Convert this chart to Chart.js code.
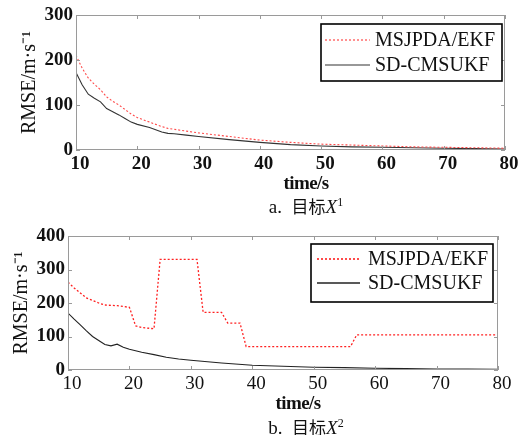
<!DOCTYPE html>
<html>
<head>
<meta charset="utf-8">
<script src="https://cdn.jsdelivr.net/npm/chart.js@4.4.1/dist/chart.umd.min.js"></script>
<style>
  body { margin: 0; background: #fff; }
  #wrap { position: relative; width: 524px; height: 435px; overflow: hidden; }
  canvas { position: absolute; left: 0; }
  .lbl { position: absolute; transform: translate(-50%, -50%); white-space: nowrap;
         font-family: "Liberation Serif", serif; color: #111; }
  .xt { font-weight: bold; font-size: 19px; letter-spacing: -0.6px; }
  .cap { font-size: 19px; }
  .cap .cjk { font-family: "Noto Sans CJK SC", sans-serif; font-size: 17px; }
  .cap i { font-style: italic; }
  .cap sup { font-size: 12px; vertical-align: 7px; line-height: 0; }
</style>
</head>
<body>
<div id="wrap">
  <canvas id="c1" width="524" height="195" style="top:0"></canvas>
  <canvas id="c2" width="524" height="175" style="top:220px"></canvas>
  <div class="lbl xt" style="left:306px; top:183px">time/s</div>
  <div class="lbl cap" style="left:306px; top:205px">a.&nbsp;&nbsp;<span class="cjk">目标</span><i>X</i><sup>1</sup></div>
  <div class="lbl xt" style="left:298px; top:403px">time/s</div>
  <div class="lbl cap" style="left:306px; top:426px">b.&nbsp;&nbsp;<span class="cjk">目标</span><i>X</i><sup>2</sup></div>
</div>
<script>
"use strict";

// ---- data ----
const seriesNames = ["MSJPDA/EKF", "SD-CMSUKF"];

// (a) target X1
const timeA = [10, 11, 12, 13, 14, 15, 16, 17, 18, 19, 20, 22, 24, 25, 26, 28, 30, 35, 40, 45, 50, 55, 60, 65, 70, 75, 80];
const ekfA  = [210, 182, 160, 146, 134, 118, 108, 100, 90, 80, 72, 62, 52, 48, 46, 42, 38, 30, 22, 17, 13, 11, 9, 7, 6, 5, 4];
const ukfA  = [172, 145, 124, 115, 107, 92, 85, 78, 70, 62, 57, 50, 40, 37, 36, 33, 30, 23, 17, 12, 9, 7, 6, 5, 4, 3, 2];

// (b) target X2
const timeEkfB = [10, 11, 12, 13, 14, 15, 16, 18, 20, 21, 22, 24, 25, 31, 32, 35, 36, 38, 39, 56, 57, 80];
const ekfB     = [262, 245, 230, 215, 208, 200, 194, 192, 187, 132, 127, 123, 330, 330, 172, 172, 140, 140, 70, 70, 105, 105];
const timeUkfB = [10, 11, 12, 13, 14, 15, 16, 17, 18, 19, 20, 22, 24, 26, 28, 30, 35, 40, 45, 50, 55, 60, 65, 70, 75, 80];
const ukfB     = [170, 152, 135, 117, 100, 88, 76, 72, 77, 68, 62, 53, 46, 38, 33, 29, 21, 14, 11, 8, 7, 5, 4, 3, 3, 2];

const xTicks = [10, 20, 30, 40, 50, 60, 70, 80];
const yTicksA = [0, 100, 200, 300];
const yTicksB = [0, 100, 200, 300, 400];

const serif = "'Liberation Serif', 'Times New Roman', serif";

function pts(xs, ys) {
  return xs.map((x, i) => ({ x: x, y: ys[i] }));
}

// frame round the plot with inward ticks on all four sides
const boxPlugin = {
  id: "matlabBox",
  afterDatasetsDraw(chart) {
    const { ctx, chartArea: a, scales } = chart;
    const len = 4;
    ctx.save();
    ctx.strokeStyle = "#9a9a9a";
    ctx.lineWidth = 1;
    ctx.strokeRect(Math.round(a.left) + 0.5, Math.round(a.top) + 0.5,
                   Math.round(a.width) - 1, Math.round(a.height) - 1);
    ctx.beginPath();
    scales.x.ticks.forEach(t => {
      const px = Math.round(scales.x.getPixelForValue(t.value)) + 0.5;
      ctx.moveTo(px, a.bottom); ctx.lineTo(px, a.bottom - len);
      ctx.moveTo(px, a.top); ctx.lineTo(px, a.top + len);
    });
    scales.y.ticks.forEach(t => {
      const py = Math.round(scales.y.getPixelForValue(t.value)) + 0.5;
      ctx.moveTo(a.left, py); ctx.lineTo(a.left + len, py);
      ctx.moveTo(a.right, py); ctx.lineTo(a.right - len, py);
    });
    ctx.stroke();
    ctx.restore();
  }
};

// boxed legend in the upper right corner of the plot
const legendPlugin = {
  id: "boxLegend",
  afterDraw(chart, args, opts) {
    const { ctx, chartArea: a } = chart;
    const w = opts.width, h = opts.height;
    const left = a.right - opts.right - w;
    const top = a.top + opts.top;
    ctx.save();
    ctx.fillStyle = "#fff";
    ctx.fillRect(left, top, w, h);
    ctx.strokeStyle = "#000";
    ctx.lineWidth = 1.6;
    ctx.strokeRect(left, top, w, h);
    ctx.font = "20px " + serif;
    ctx.textBaseline = "middle";
    chart.data.datasets.forEach((ds, i) => {
      const y = top + opts.rows[i];
      ctx.beginPath();
      ctx.strokeStyle = ds.borderColor;
      ctx.lineWidth = opts.sampleWidth;
      ctx.setLineDash(ds.borderDash || []);
      ctx.moveTo(left + opts.lineStart, y);
      ctx.lineTo(left + opts.lineEnd, y);
      ctx.stroke();
      ctx.setLineDash([]);
      ctx.fillStyle = "#111";
      ctx.fillText(ds.label, left + opts.textX, y + 1);
    });
    ctx.restore();
  }
};

function makeChart(id, sets, cfg) {
  return new Chart(document.getElementById(id), {
    type: "line",
    data: { datasets: sets },
    plugins: [boxPlugin, legendPlugin],
    options: {
      responsive: false,
      animation: false,
      devicePixelRatio: 1,
      layout: { padding: { left: 0, right: cfg.padRight, top: cfg.padTop, bottom: 0 } },
      elements: { point: { radius: 0 }, line: { tension: 0 } },
      plugins: {
        legend: { display: false },
        tooltip: { enabled: false },
        boxLegend: cfg.legend
      },
      scales: {
        x: {
          type: "linear",
          min: 10, max: 80,
          afterBuildTicks: s => { s.ticks = xTicks.map(v => ({ value: v })); },
          afterFit: s => { s.height = cfg.xHeight; },
          grid: { display: false, drawTicks: false },
          border: { display: false },
          ticks: {
            padding: 3,
            labelOffset: 4,
            color: "#111",
            maxRotation: 0,
            font: { family: serif, size: 19, weight: cfg.xBold ? "bold" : "normal" }
          }
        },
        y: {
          min: 0, max: cfg.yMax,
          afterBuildTicks: s => { s.ticks = cfg.yTicks.map(v => ({ value: v })); },
          afterFit: s => { s.width = cfg.yWidth; },
          grid: { display: false, drawTicks: false },
          border: { display: false },
          ticks: {
            padding: 3,
            color: "#111",
            font: { family: serif, size: 19, weight: "bold" }
          },
          title: {
            display: true,
            text: "RMSE/m·s⁻¹",
            color: "#111",
            font: { family: serif, size: 20 },
            padding: { top: cfg.titlePad, bottom: 0 }
          }
        }
      }
    }
  });
}

makeChart("c1", [
  { label: seriesNames[0], data: pts(timeA, ekfA), borderColor: "#ff4a4a", borderWidth: 1.1, borderDash: [2, 2] },
  { label: seriesNames[1], data: pts(timeA, ukfA), borderColor: "#333", borderWidth: 1.1 }
], {
  padRight: 19, padTop: 15, xHeight: 45, yWidth: 76, yMax: 300, yTicks: yTicksA, xBold: true, titlePad: 18,
  legend: { right: 3, top: 9, width: 181, height: 57, rows: [16, 41], lineStart: 4, lineEnd: 49, textX: 54, sampleWidth: 1.2 }
});

makeChart("c2", [
  { label: seriesNames[0], data: pts(timeEkfB, ekfB), borderColor: "#ff2020", borderWidth: 1.3, borderDash: [2, 2] },
  { label: seriesNames[1], data: pts(timeUkfB, ukfB), borderColor: "#222", borderWidth: 1.1 }
], {
  padRight: 26, padTop: 16, xHeight: 25, yWidth: 68, yMax: 400, yTicks: yTicksB, xBold: false, titlePad: 10,
  legend: { right: 5, top: 8, width: 182, height: 58, rows: [15, 39], lineStart: 6, lineEnd: 49, textX: 57, sampleWidth: 1.6 }
});
</script>
</body>
</html>
